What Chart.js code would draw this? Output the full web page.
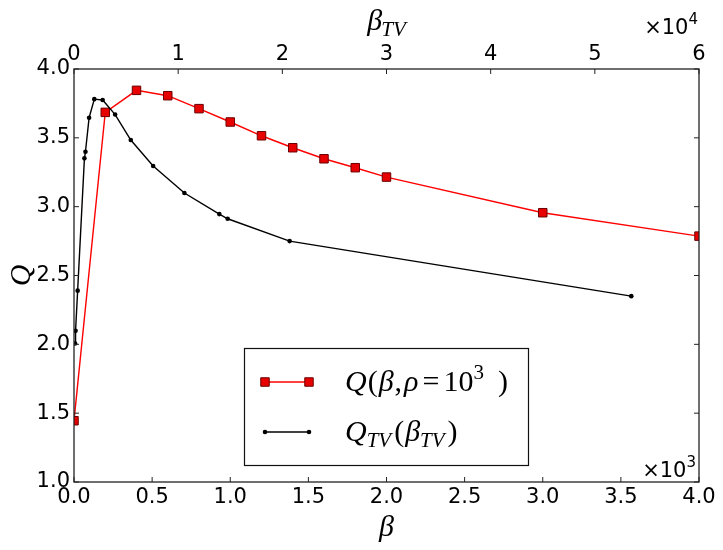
<!DOCTYPE html>
<html>
<head>
<meta charset="utf-8">
<script src="https://cdn.jsdelivr.net/npm/chart.js@4/dist/chart.umd.min.js"></script>
<style>
  html, body { margin: 0; padding: 0; background: #fff; }
  #wrap { width: 723px; height: 550px; position: relative; }
</style>
</head>
<body>
<div id="wrap"><canvas id="c" width="723" height="550"></canvas></div>
<script>
// Red series: Q(beta, rho = 10^3) on the bottom axis (beta)
const betaValues = [0, 200, 400, 600, 800, 1000, 1200, 1400, 1600, 1800, 2000, 3000, 4000];
const qValues = [1.445, 3.685, 3.845, 3.806, 3.712, 3.615, 3.515, 3.428, 3.348, 3.283, 3.215, 2.956, 2.786];

// Black series: Q_TV(beta_TV) on the top axis (beta_TV)
const betaTVValues = [100, 150, 350, 1000, 1100, 1450, 1950, 2750, 3950, 5450, 7600, 10600, 13950, 14750, 20700, 53500];
const qTVValues = [2.006, 2.098, 2.390, 3.351, 3.399, 3.646, 3.781, 3.775, 3.669, 3.484, 3.295, 3.099, 2.946, 2.912, 2.750, 2.350];

// Axis ranges / ticks
const betaRange = [0, 4000], betaStep = 500, betaScaleExp = 3;
const betaTVRange = [0, 60000], betaTVStep = 10000, betaTVScaleExp = 4;
const qRange = [1.0, 4.0], qStep = 0.5;

const FRAME = '#222';
const TICKFONT = { family: 'DejaVu Sans', size: 21 };
const SERIF = 'Liberation Serif';

function pts(xs, ys) { return xs.map((x, i) => ({ x: x, y: ys[i] })); }

// draw a sequence of text segments (math-like)
function drawSegs(ctx, x, y, segs) {
  let cx = x;
  for (const s of segs) {
    ctx.font = (s.italic ? 'italic ' : '') + s.size + 'px ' + (s.family || SERIF);
    ctx.textBaseline = 'alphabetic';
    ctx.textAlign = 'left';
    cx += (s.pre || 0);
    ctx.fillText(s.t, cx, y + (s.dy || 0));
    cx += ctx.measureText(s.t).width + (s.post || 0);
  }
  return cx;
}
function segsWidth(ctx, segs) {
  let w = 0;
  for (const s of segs) {
    ctx.font = (s.italic ? 'italic ' : '') + s.size + 'px ' + (s.family || SERIF);
    w += (s.pre || 0) + ctx.measureText(s.t).width + (s.post || 0);
  }
  return w;
}

const framePlugin = {
  id: 'frameTicks',
  afterDatasetsDraw(chart) {
    const { ctx, chartArea: a, scales } = chart;
    ctx.save();
    ctx.strokeStyle = FRAME;
    ctx.lineWidth = 1.3;
    ctx.strokeRect(a.left, a.top, a.right - a.left, a.bottom - a.top);
    const L = 5;
    ctx.lineWidth = 1;
    ctx.beginPath();
    scales.x.ticks.forEach(t => {
      const px = scales.x.getPixelForValue(t.value);
      ctx.moveTo(px, a.bottom); ctx.lineTo(px, a.bottom - L);
    });
    scales.x2.ticks.forEach(t => {
      const px = scales.x2.getPixelForValue(t.value);
      ctx.moveTo(px, a.top); ctx.lineTo(px, a.top + L);
    });
    scales.y.ticks.forEach(t => {
      const py = scales.y.getPixelForValue(t.value);
      ctx.moveTo(a.left, py); ctx.lineTo(a.left + L, py);
      ctx.moveTo(a.right, py); ctx.lineTo(a.right - L, py);
    });
    ctx.stroke();

    // multipliers
    ctx.fillStyle = '#000';
    const mult = (exp, right, base) => {
      const segs = [
        { t: '\u00d710', size: 21, family: 'DejaVu Sans' },
        { t: String(exp), size: 15, family: 'DejaVu Sans', dy: -10 }
      ];
      const w = segsWidth(ctx, segs);
      drawSegs(ctx, right - w, base, segs);
    };
    mult(betaTVScaleExp, a.right - 1, 34);
    mult(betaScaleExp, a.right - 3, a.bottom - 5);

    // top axis title beta_TV
    const tsegs = [
      { t: '\u03b2', italic: true, size: 30 },
      { t: 'TV', italic: true, size: 21, dy: 6, pre: -1 }
    ];
    const tw = segsWidth(ctx, tsegs);
    const cx = (a.left + a.right) / 2;
    drawSegs(ctx, cx - tw / 2, 30, tsegs);
    ctx.restore();
  },
  afterDraw(chart) {
    const { ctx } = chart;
    const box = { x: 244, y: 348, w: 284, h: 117 };
    ctx.save();
    ctx.fillStyle = '#fff';
    ctx.fillRect(box.x, box.y, box.w, box.h);
    ctx.strokeStyle = '#111';
    ctx.lineWidth = 1.2;
    ctx.strokeRect(box.x + 0.5, box.y + 0.5, box.w, box.h);

    const ds = chart.data.datasets;
    const rows = [box.y + 34, box.y + 84];
    const x0 = box.x + 21, x1 = box.x + 65;
    ds.forEach((d, i) => {
      const yy = rows[i];
      ctx.strokeStyle = d.borderColor;
      ctx.lineWidth = d.borderWidth;
      ctx.beginPath(); ctx.moveTo(x0, yy); ctx.lineTo(x1, yy); ctx.stroke();
      [x0, x1].forEach(px => {
        ctx.fillStyle = d.pointBackgroundColor;
        ctx.strokeStyle = d.pointBorderColor;
        ctx.lineWidth = d.pointBorderWidth;
        ctx.beginPath();
        if (d.pointStyle === 'rect') {
          const s = d.pointRadius * Math.SQRT1_2;
          ctx.rect(px - s, yy - s, 2 * s, 2 * s);
        } else {
          ctx.arc(px, yy, d.pointRadius, 0, Math.PI * 2);
        }
        ctx.fill(); if (d.pointBorderWidth) ctx.stroke();
      });
    });
    ctx.fillStyle = '#000';
    const tx = box.x + 101;
    drawSegs(ctx, tx, rows[0] + 9, [
      { t: 'Q', italic: true, size: 30, post: 1 },
      { t: '(', size: 30, post: 1 },
      { t: '\u03b2', italic: true, size: 30, post: 1 },
      { t: ',', size: 30, post: 2 },
      { t: '\u03c1', italic: true, size: 30, post: 4 },
      { t: '=', size: 30, post: 4 },
      { t: '10', size: 30 },
      { t: '3', size: 21, dy: -12, post: 14 },
      { t: ')', size: 30 }
    ]);
    drawSegs(ctx, tx, rows[1] + 9, [
      { t: 'Q', italic: true, size: 30 },
      { t: 'TV', italic: true, size: 21, dy: 6, post: 3 },
      { t: '(', size: 30, post: 1 },
      { t: '\u03b2', italic: true, size: 30 },
      { t: 'TV', italic: true, size: 21, dy: 6, post: 3 },
      { t: ')', size: 30 }
    ]);
    ctx.restore();
  }
};

new Chart(document.getElementById('c'), {
  type: 'scatter',
  data: {
    datasets: [
      {
        label: 'Q(\u03b2,\u03c1=10\u00b3)',
        data: pts(betaValues, qValues),
        xAxisID: 'x', yAxisID: 'y',
        showLine: true,
        borderColor: '#ff0000', borderWidth: 1.4,
        pointStyle: 'rect', pointRadius: 6,
        pointBackgroundColor: '#e80000', pointBorderColor: '#6a0000', pointBorderWidth: 1,
        clip: 0, order: 1
      },
      {
        label: 'Q_TV(\u03b2_TV)',
        data: pts(betaTVValues, qTVValues),
        xAxisID: 'x2', yAxisID: 'y',
        showLine: true,
        borderColor: '#000000', borderWidth: 1.4,
        pointStyle: 'circle', pointRadius: 2.3,
        pointBackgroundColor: '#000000', pointBorderColor: '#000000', pointBorderWidth: 0,
        clip: 0, order: 0
      }
    ]
  },
  options: {
    responsive: false,
    animation: false,
    devicePixelRatio: 1,
    layout: { padding: { left: 0, right: 24, top: 0, bottom: 0 } },
    plugins: { legend: { display: false }, tooltip: { enabled: false } },
    scales: {
      x: {
        type: 'linear', position: 'bottom', min: betaRange[0], max: betaRange[1],
        ticks: { stepSize: betaStep, callback: v => (v / Math.pow(10, betaScaleExp)).toFixed(1),
                 font: TICKFONT, color: '#000', padding: 3, maxRotation: 0, autoSkip: false },
        grid: { display: false, drawTicks: false },
        border: { display: false },
        title: { display: true, text: '\u03b2', font: { family: SERIF, style: 'italic', size: 30 },
                 color: '#000', padding: { top: 0, bottom: 4 } },
        afterFit(s) { s.height = 68; }
      },
      x2: {
        type: 'linear', axis: 'x', position: 'top', min: betaTVRange[0], max: betaTVRange[1],
        ticks: { stepSize: betaTVStep, callback: v => String(v / Math.pow(10, betaTVScaleExp)),
                 font: TICKFONT, color: '#000', padding: 2, maxRotation: 0, autoSkip: false },
        grid: { display: false, drawTicks: false },
        border: { display: false },
        afterFit(s) { s.height = 69; }
      },
      y: {
        type: 'linear', position: 'left', min: qRange[0], max: qRange[1],
        ticks: { stepSize: qStep, callback: v => v.toFixed(1), font: TICKFONT, color: '#000', padding: 4 },
        grid: { display: false, drawTicks: false },
        border: { display: false },
        title: { display: true, text: 'Q', font: { family: SERIF, style: 'italic', size: 30 },
                 color: '#000', padding: { top: 4, bottom: 0 } },
        afterFit(s) { s.width = 74; }
      }
    }
  },
  plugins: [framePlugin]
});
</script>
</body>
</html>
